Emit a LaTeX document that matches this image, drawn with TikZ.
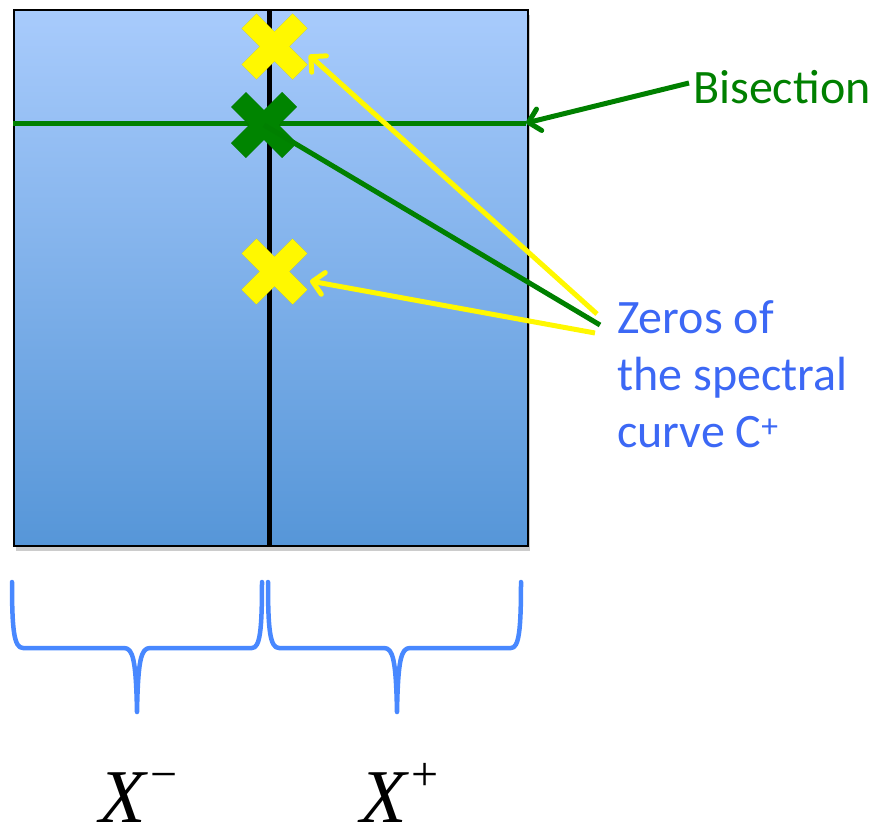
\documentclass[tikz,border=0pt]{standalone}
\usepackage{fontspec}
\setmainfont{Carlito}
\newfontfamily\xlabfont{Liberation Serif}
\usetikzlibrary{arrows.meta,shadows}
\definecolor{boxtop}{RGB}{168,203,252}
\definecolor{boxbot}{RGB}{86,150,216}
\definecolor{ygold}{RGB}{255,248,0}
\definecolor{dgreen}{RGB}{0,128,0}
\definecolor{xgreen}{RGB}{0,132,0}
\definecolor{tblue}{RGB}{60,104,245}
\definecolor{bblue}{RGB}{72,136,255}
\tikzset{
  tip/.style={-{Straight Barb[length=11pt,width=22pt,line cap=round,line join=round]}},
  yarrow/.style={draw=ygold,line width=5pt,tip},
  garrow/.style={draw=dgreen,line width=5pt},
  brace/.style={draw=bblue,line width=4.5pt,line cap=round,line join=round},
  lbl/.style={inner sep=0pt,font=\fontsize{48}{57}\selectfont},
  xlab/.style={inner sep=0pt,anchor=base west,font=\xlabfont\fontsize{76}{80}\selectfont},
  pics/xmark/.style={code={
    \draw[#1,line width=21pt,line cap=butt] (-25.5,-25.5) -- (25.5,25.5);
    \draw[#1,line width=21pt,line cap=butt] (-25.5,25.5) -- (25.5,-25.5);
  }},
}
\newcommand{\supmark}[1]{\kern5pt\raisebox{32pt}{\fontsize{48}{48}\selectfont #1}}
\begin{document}
\begin{tikzpicture}[x=1pt,y=-1pt]
\useasboundingbox (0,0) rectangle (891,825);
% main box
\node[draw=black,line width=2pt,top color=boxtop,bottom color=boxbot,
      minimum width=514pt,minimum height=536pt,inner sep=0pt,anchor=north west,
      drop shadow={opacity=0.4,shadow xshift=2pt,shadow yshift=-5pt}]
      (box) at (12.5,9) {};
% vertical divider
\coordinate (vtop) at (269,9);
\coordinate (vbot) at (269,545);
\draw[black,line width=5pt] (vtop) -- (vbot);
% bisection line
\coordinate (hl) at (13,123);
\coordinate (hr) at (526,123);
\draw[dgreen,line width=5pt] (hl) -- (hr);
% crosses
\coordinate (y1) at (274.5,46.5);
\coordinate (g1) at (264,125);
\coordinate (y2) at (274.5,271.5);
\begin{scope}[opacity=0.25,shift={(2,3)}]
\pic at (y1) {xmark=black};
\pic at (g1) {xmark=black};
\pic at (y2) {xmark=black};
\end{scope}
\pic at (y1) {xmark=ygold};
\pic at (g1) {xmark=xgreen};
\pic at (y2) {xmark=ygold};
% labels
\node[lbl,text=dgreen,anchor=base west] (bis) at (693,103) {Bisection};
\node[lbl,text=tblue,anchor=base west,align=left] (zer) at (617,447)
  {Zeros of\\the spectral\\curve C\textsuperscript{+}};
% connector ends
\coordinate (bs) at (689,83);
\coordinate (za) at (597,314);
\coordinate (zg) at (600,325);
\coordinate (zb) at (595,333);
\coordinate (ta) at (309,55);
\coordinate (tb) at (310,281);
\draw[garrow,tip] (bs) -- (hr);
\draw[garrow] (zg) -- (g1);
\draw[yarrow] (za) -- (ta);
\draw[yarrow] (zb) -- (tb);
% braces
\draw[brace] (12,582) .. controls (12,630) and (14,648) .. (23,648)
  -- (124,648) .. controls (133,648) and (136,660) .. (137,712)
  .. controls (138,660) and (141,648) .. (150,648)
  -- (252,648) .. controls (260,648) and (262,630) .. (262,582);
\draw[brace] (268,582) .. controls (268,630) and (270,648) .. (279,648)
  -- (384,648) .. controls (393,648) and (396,660) .. (397,712)
  .. controls (398,660) and (401,648) .. (410,648)
  -- (511,648) .. controls (519,648) and (521,630) .. (521,582);
% X labels
\node[xlab] (xm) at (99,822) {\itshape X\upshape\supmark{−}};
\node[xlab] (xp) at (360,822) {\itshape X\upshape\supmark{+}};
\end{tikzpicture}
\end{document}
